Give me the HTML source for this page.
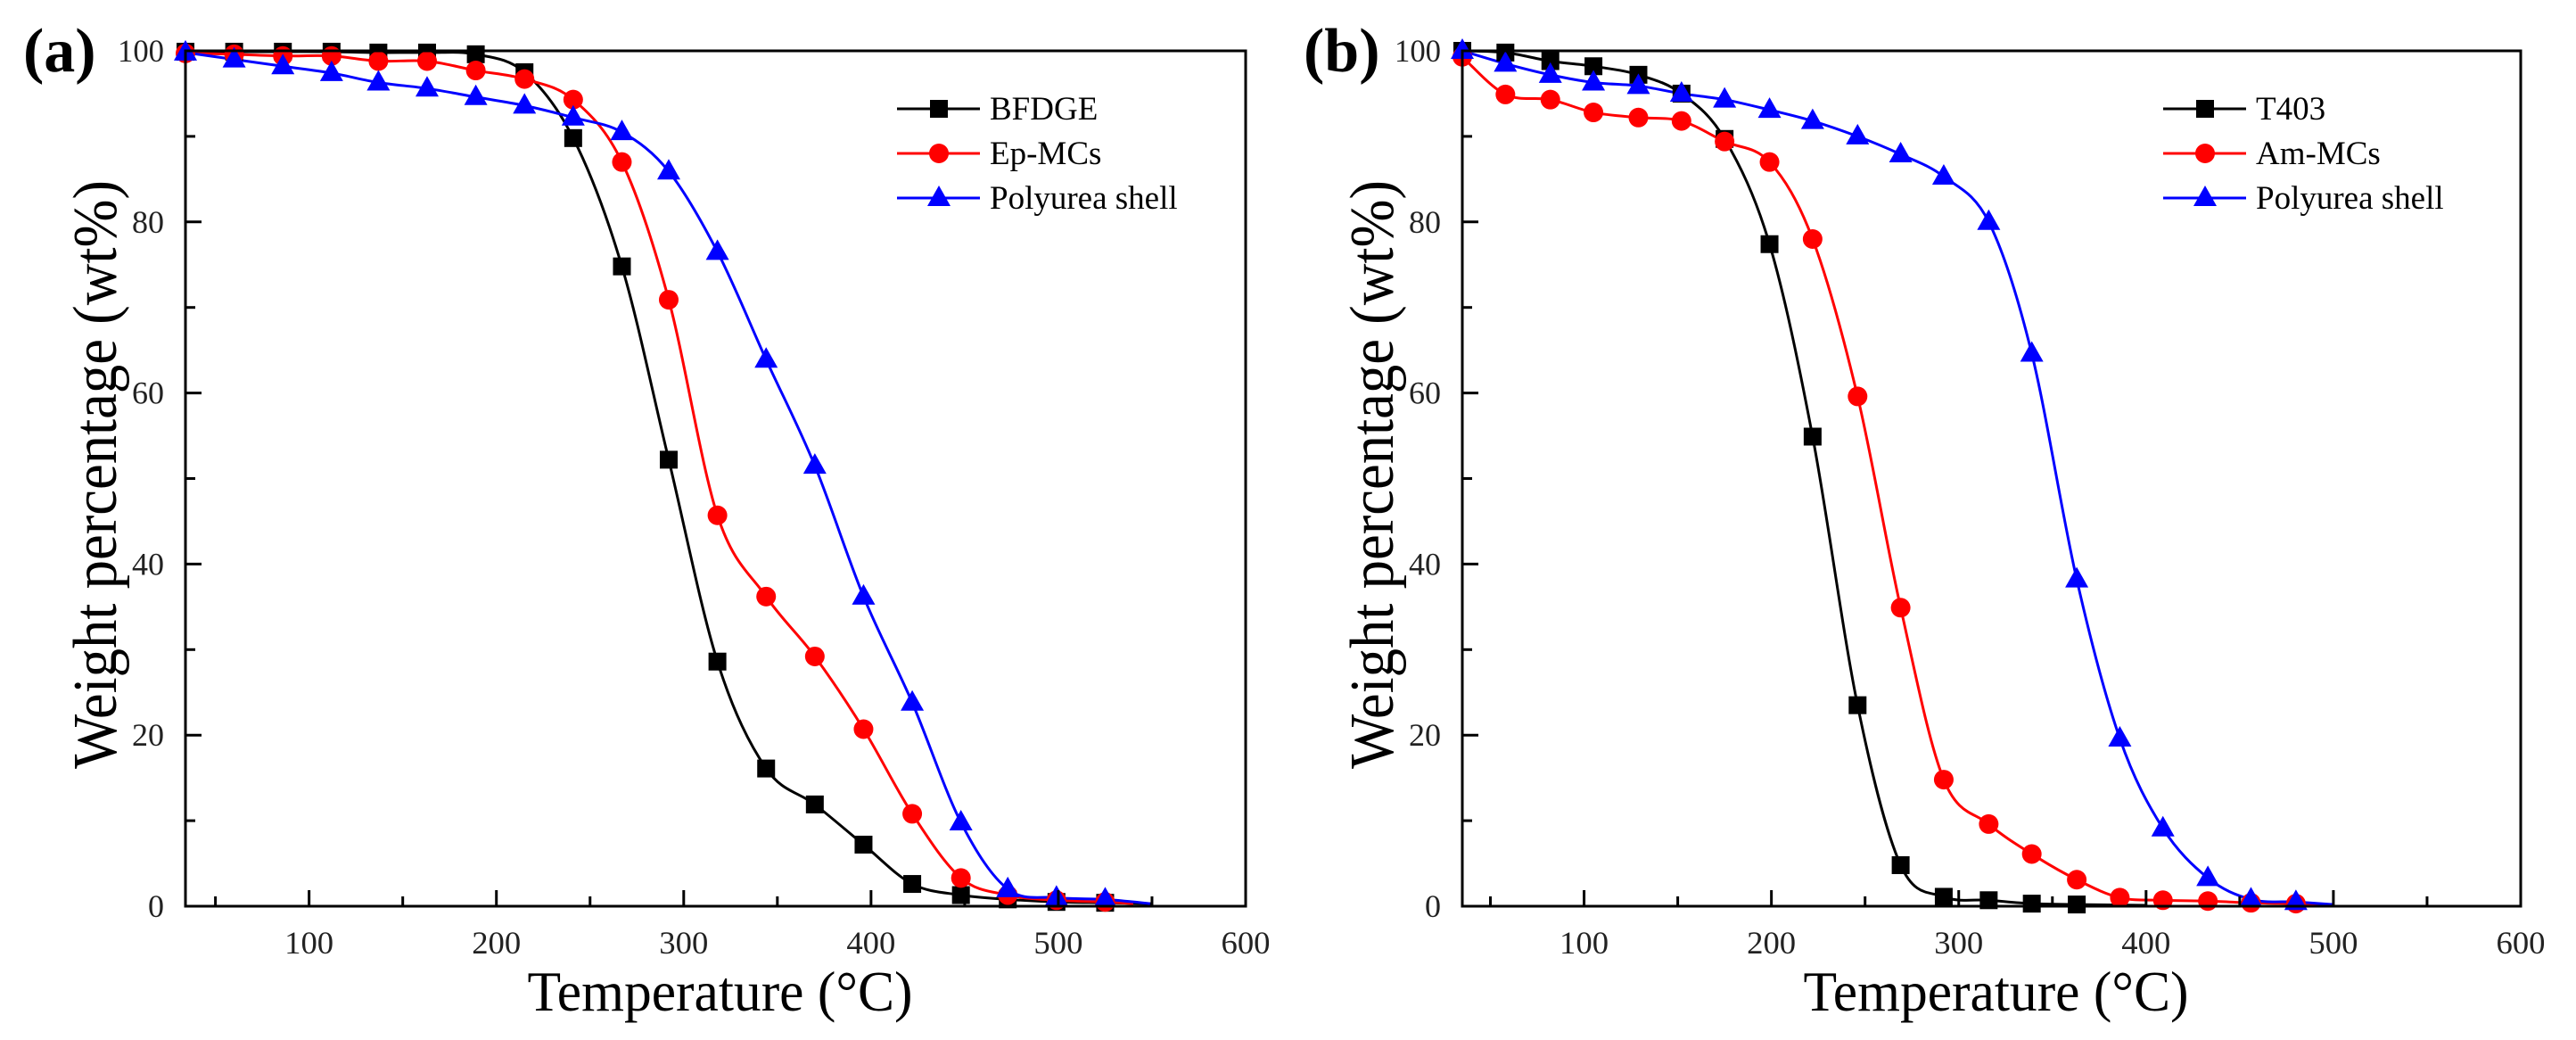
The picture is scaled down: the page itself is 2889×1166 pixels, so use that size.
<!DOCTYPE html>
<html><head><meta charset="utf-8"><style>
html,body{margin:0;padding:0;background:#fff;}
svg{display:block;font-family:"Liberation Serif",serif;}
</style></head><body>
<svg id="fig" width="2889" height="1166" viewBox="0 0 2889 1166" xmlns="http://www.w3.org/2000/svg"></svg>
<script>
// ---- Panel (a) data ----
const aTemps = [34,60,86,112,137,163,189,215,241,267,292,318,344,370,396,422,448,473,499,525];
const aBFDGE = [99.9,99.9,99.9,99.9,99.8,99.8,99.6,97.5,89.8,74.8,52.2,28.6,16.1,11.9,7.2,2.6,1.3,0.8,0.5,0.4];
const aEpMCs = [99.7,99.6,99.4,99.4,98.8,98.8,97.7,96.7,94.3,87.0,70.9,45.7,36.2,29.2,20.7,10.8,3.3,1.3,0.7,0.5];
const aPolyurea = [99.8,99.0,98.2,97.4,96.3,95.6,94.6,93.6,92.2,90.5,85.9,76.5,63.9,51.5,36.2,23.8,9.8,2.0,1.0,0.8];
const aTail = [[550,0.3],[540,0.3],[549,0.3]];
const aNames = ["BFDGE","Ep-MCs","Polyurea shell"];
// ---- Panel (b) data ----
const bTemps = [35,58,82,105,129,152,175,199,222,246,269,292,316,339,363,386,409,433,456,480];
const bT403 = [100,99.8,98.8,98.2,97.2,95.0,89.7,77.4,54.9,23.5,4.8,1.1,0.7,0.3,0.2,null,null,null,null,null];
const bAmMCs = [99.3,94.9,94.3,92.8,92.2,91.8,89.4,87.0,78.0,59.6,34.9,14.8,9.6,6.1,3.1,1.0,0.7,0.6,0.4,0.3];
const bPolyurea = [100,98.5,97.2,96.3,95.9,95.0,94.3,93.1,91.8,90.0,87.9,85.3,80.0,64.6,38.2,19.6,9.1,3.3,0.8,0.5];
const bTail = [[400,0.1],[495,0.2],[500,0.2]];
const bNames = ["T403","Am-MCs","Polyurea shell"];
const xTicks = [100,200,300,400,500,600];
const yTicks = [0,20,40,60,80,100];

const NS="http://www.w3.org/2000/svg";
const svg=document.getElementById('fig');
function mk(tag,attrs,parent){const e=document.createElementNS(NS,tag);for(const k in attrs)e.setAttribute(k,attrs[k]);(parent||svg).appendChild(e);return e;}
const colors=["#000000","#ff0000","#0000ff"];
const shapes=["square","circle","triangle"];

function marker(g,shape,x,y,c,name){
  let e;
  if(shape==="square"){e=mk('rect',{x:x-10,y:y-10,width:20,height:20,fill:c},g);}
  else if(shape==="circle"){e=mk('ellipse',{cx:x,cy:y,rx:11,ry:11,fill:c},g);}
  else {e=mk('polygon',{points:`${x},${y-14} ${x+13},${y+9} ${x-13},${y+9}`,fill:c},g);}
  
  
}
function spline(pts){
  let d=`M${pts[0][0]},${pts[0][1]}`;
  for(let i=0;i<pts.length-1;i++){
    const p0=pts[Math.max(0,i-1)],p1=pts[i],p2=pts[i+1],p3=pts[Math.min(pts.length-1,i+2)];
    const c1x=p1[0]+(p2[0]-p0[0])/6,c1y=p1[1]+(p2[1]-p0[1])/6;
    const c2x=p2[0]-(p3[0]-p1[0])/6,c2y=p2[1]-(p3[1]-p1[1])/6;
    d+=` C${c1x},${c1y} ${c2x},${c2y} ${p2[0]},${p2[1]}`;
  }
  return d;
}

function panel(id,left,right,label,labelX,temps,series,tails,names,legX){
  const top=57,bottom=1016,tmin=(left===208?34:35),tmax=600;
  const sx=t=>left+(t-tmin)*(right-left)/(tmax-tmin);
  const sy=v=>bottom-v*(bottom-top)/100;
  const g=mk('g',{});
  
  
  series.forEach((vals,si)=>{
    const sg=mk('g',{},g);
    
    
    const pts=[];
    temps.forEach((t,i)=>{if(vals[i]!==null)pts.push([sx(t),sy(vals[i])]);});
    pts.push([sx(tails[si][0]),sy(tails[si][1])]);
    const p=mk('path',{d:spline(pts),fill:'none',stroke:colors[si],'stroke-width':3},sg);
    
    
  });
  series.forEach((vals,si)=>{
    temps.forEach((t,i)=>{if(vals[i]!==null)marker(g,shapes[si],sx(t),sy(vals[i]),colors[si],'data-point');});
  });
  const fr=mk('rect',{x:left,y:top,width:right-left,height:bottom-top,fill:'none',stroke:'#000','stroke-width':3},g);
  
  
  for(let t=50;t<=600;t+=50){
    const major=t%100===0;
    const tk=mk('line',{x1:sx(t),x2:sx(t),y1:bottom,y2:bottom-(major?18:11),stroke:'#000','stroke-width':3},g);
    
    
  }
  xTicks.forEach(t=>{
    const tx=mk('text',{x:sx(t),y:1069,'font-size':36,'text-anchor':'middle',fill:'#222',textLength:55,lengthAdjust:'spacingAndGlyphs'},g);
    tx.textContent=t;
    
    
  });
  for(let v=10;v<100;v+=10){
    const major=v%20===0;
    const tk=mk('line',{x1:left,x2:left+(major?18:11),y1:sy(v),y2:sy(v),stroke:'#000','stroke-width':3},g);
    
    
  }
  yTicks.forEach(v=>{
    const tx=mk('text',{x:left-24,y:sy(v)+12,'font-size':36,'text-anchor':'end',fill:'#222'},g);
    if(v===100){tx.setAttribute('textLength',52);tx.setAttribute('lengthAdjust','spacingAndGlyphs');}
    tx.textContent=v;
    
    
  });
  const xt=mk('text',{x:(left+right)/2+5,y:1133,'font-size':64,'text-anchor':'middle',fill:'#000',textLength:432,lengthAdjust:'spacingAndGlyphs'},g);
  xt.textContent='Temperature (°C)';
  
  
  const yt=mk('text',{x:0,y:0,'font-size':70,'text-anchor':'middle',fill:'#000',textLength:660,lengthAdjust:'spacingAndGlyphs',transform:`translate(${left-78},532) rotate(-90)`},g);
  yt.textContent='Weight percentage (wt%)';
  
  
  const pl=mk('text',{x:labelX,y:80,'font-size':70,'font-weight':'bold',fill:'#000'},g);
  pl.textContent=label;
  
  
  const lg=mk('g',{},g);
  
  
  names.forEach((n,i)=>{
    const y=122+i*50;
    const en=mk('g',{},lg);
    
    
    const ln=mk('line',{x1:legX,x2:legX+93,y1:y,y2:y,stroke:colors[i],'stroke-width':3},en);
    
    
    marker(en,shapes[i],legX+47,y,colors[i],'legend-marker');
    const tx=mk('text',{x:legX+104,y:y+12,'font-size':37,fill:'#000'},en);
    tx.textContent=n;
    
    
  });
}
panel('a',208,1397,'(a)',26,aTemps,[aBFDGE,aEpMCs,aPolyurea],aTail,aNames,1006);
panel('b',1640,2827,'(b)',1462,bTemps,[bT403,bAmMCs,bPolyurea],bTail,bNames,2426);
</script>
</body></html>
